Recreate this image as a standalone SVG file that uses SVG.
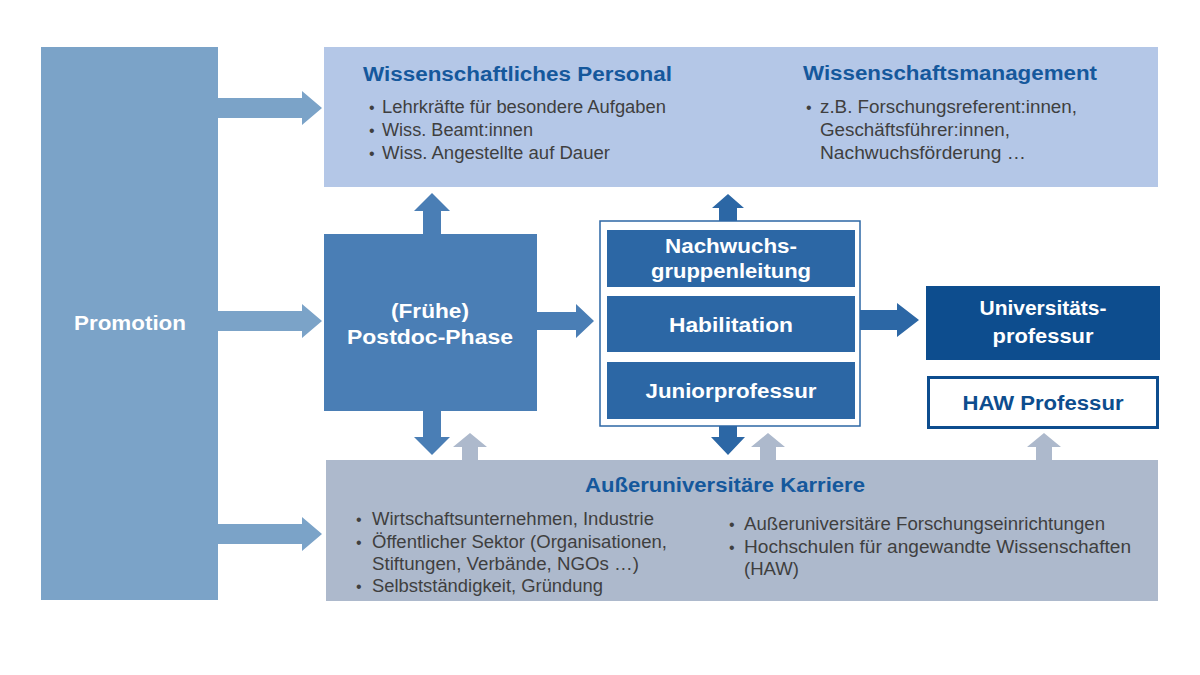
<svg xmlns="http://www.w3.org/2000/svg" width="1200" height="675" viewBox="0 0 1200 675">
<style>
text{font-family:"Liberation Sans",Arial,sans-serif}
.nt{font-size:20px;font-weight:bold;fill:#ffffff;text-anchor:middle}
.tt{font-size:20px;font-weight:bold;fill:#15589c}
.bt{font-size:17.5px;fill:#3f3f3f}
.bu{font-size:16px;fill:#3f3f3f}
.a1{fill:#7ba3c8}
.a2{fill:#4a7eb5}
.a3{fill:#2c67a5}
.a4{fill:#adb9cc}
</style>
<rect width="1200" height="675" fill="#ffffff"/>
<g id="connectors">
<polygon class="a1" points="218,98 302,98 302,91 322,108 302,125 302,118 218,118"/>
<polygon class="a1" points="218,311 302,311 302,304 322,321 302,338 302,331 218,331"/>
<polygon class="a1" points="218,524 302,524 302,517 322,534 302,551 302,544 218,544"/>
<polygon class="a2" points="537,312 576,312 576,304 594,321 576,338 576,330 537,330"/>
<polygon class="a2" points="423,234 423,211 414,211 432,193 450,211 441,211 441,234"/>
<polygon class="a2" points="423,411 423,437 414,437 432,455 450,437 441,437 441,411"/>
<polygon class="a3" points="719,221 719,208 712,208 728,194 744,208 737,208 737,221"/>
<polygon class="a3" points="719,426 719,437 711,437 728,455 745,437 737,437 737,426"/>
<polygon class="a3" points="860,310 897,310 897,303 919,320 897,337 897,330 860,330"/>
<polygon class="a4" points="462,460 462,447 453,447 470,433 487,447 478,447 478,460"/>
<polygon class="a4" points="760,460 760,447 751,447 768,433 785,447 776,447 776,460"/>
<polygon class="a4" points="1036,460 1036,447 1027,447 1044,433 1061,447 1052,447 1052,460"/>
</g>
<g id="promotion">
<rect x="41" y="47" width="177" height="553" fill="#7ba3c8"/>
<text class="nt" x="130" y="330" textLength="112" lengthAdjust="spacingAndGlyphs">Promotion</text>
</g>
<g id="wiss-top">
<rect x="324" y="47" width="834" height="140" fill="#b4c7e7"/>
<text class="tt" x="363" y="81" textLength="309" lengthAdjust="spacingAndGlyphs">Wissenschaftliches Personal</text>
<text class="bu" x="369" y="113">•</text>
<text class="bt" x="382" y="113" textLength="284" lengthAdjust="spacingAndGlyphs">Lehrkräfte für besondere Aufgaben</text>
<text class="bu" x="369" y="136">•</text>
<text class="bt" x="382" y="136" textLength="151" lengthAdjust="spacingAndGlyphs">Wiss. Beamt:innen</text>
<text class="bu" x="369" y="159">•</text>
<text class="bt" x="382" y="159" textLength="228" lengthAdjust="spacingAndGlyphs">Wiss. Angestellte auf Dauer</text>
<text class="tt" x="803" y="80" textLength="294" lengthAdjust="spacingAndGlyphs">Wissenschaftsmanagement</text>
<text class="bu" x="806" y="113">•</text>
<text class="bt" x="820" y="113" textLength="257" lengthAdjust="spacingAndGlyphs">z.B. Forschungsreferent:innen,</text>
<text class="bt" x="820" y="136" textLength="190" lengthAdjust="spacingAndGlyphs">Geschäftsführer:innen,</text>
<text class="bt" x="820" y="159" textLength="206" lengthAdjust="spacingAndGlyphs">Nachwuchsförderung …</text>
</g>
<g id="postdoc">
<rect x="324" y="234" width="213" height="177" fill="#4a7eb5"/>
<text class="nt" x="430" y="318" textLength="78" lengthAdjust="spacingAndGlyphs">(Frühe)</text>
<text class="nt" x="430" y="344" textLength="166" lengthAdjust="spacingAndGlyphs">Postdoc-Phase</text>
</g>
<g id="qualification">
<rect x="600" y="221" width="260" height="205" fill="#ffffff" stroke="#2c67a5" stroke-width="1.5"/>
</g>
<g id="nachwuchs">
<rect x="607" y="230" width="248" height="57" fill="#2c67a5"/>
<text class="nt" x="731" y="253" textLength="132" lengthAdjust="spacingAndGlyphs">Nachwuchs-</text>
<text class="nt" x="731" y="278" textLength="160" lengthAdjust="spacingAndGlyphs">gruppenleitung</text>
</g>
<g id="habilitation">
<rect x="607" y="296" width="248" height="56" fill="#2c67a5"/>
<text class="nt" x="731" y="332" textLength="124" lengthAdjust="spacingAndGlyphs">Habilitation</text>
</g>
<g id="juniorprofessur">
<rect x="607" y="362" width="248" height="57" fill="#2c67a5"/>
<text class="nt" x="731" y="398" textLength="171" lengthAdjust="spacingAndGlyphs">Juniorprofessur</text>
</g>
<g id="uniprof">
<rect x="926" y="286" width="234" height="74" fill="#0d4d8e"/>
<text class="nt" x="1043" y="315" textLength="127" lengthAdjust="spacingAndGlyphs">Universitäts-</text>
<text class="nt" x="1043" y="343" textLength="101" lengthAdjust="spacingAndGlyphs">professur</text>
</g>
<g id="hawprof">
<rect x="928.5" y="377.5" width="229" height="50" fill="#ffffff" stroke="#0d4d8e" stroke-width="3"/>
<text class="nt" x="1043" y="410" style="fill:#0d4d8e" textLength="161" lengthAdjust="spacingAndGlyphs">HAW Professur</text>
</g>
<g id="ausseruni">
<rect x="326" y="460" width="832" height="141" fill="#adb9cc"/>
<text class="tt" x="585" y="492" textLength="280" lengthAdjust="spacingAndGlyphs">Außeruniversitäre Karriere</text>
<text class="bu" x="356" y="525">•</text>
<text class="bt" x="372" y="525" textLength="282" lengthAdjust="spacingAndGlyphs">Wirtschaftsunternehmen,  Industrie</text>
<text class="bu" x="356" y="548">•</text>
<text class="bt" x="372" y="548" textLength="295" lengthAdjust="spacingAndGlyphs">Öffentlicher Sektor (Organisationen,</text>
<text class="bt" x="372" y="570" textLength="267" lengthAdjust="spacingAndGlyphs">Stiftungen, Verbände, NGOs …)</text>
<text class="bu" x="356" y="592">•</text>
<text class="bt" x="372" y="592" textLength="231" lengthAdjust="spacingAndGlyphs">Selbstständigkeit, Gründung</text>
<text class="bu" x="729" y="530">•</text>
<text class="bt" x="744" y="530" textLength="361" lengthAdjust="spacingAndGlyphs">Außeruniversitäre  Forschungseinrichtungen</text>
<text class="bu" x="729" y="553">•</text>
<text class="bt" x="744" y="553" textLength="387" lengthAdjust="spacingAndGlyphs">Hochschulen  für angewandte Wissenschaften</text>
<text class="bt" x="744" y="575" textLength="55" lengthAdjust="spacingAndGlyphs">(HAW)</text>
</g>
</svg>
